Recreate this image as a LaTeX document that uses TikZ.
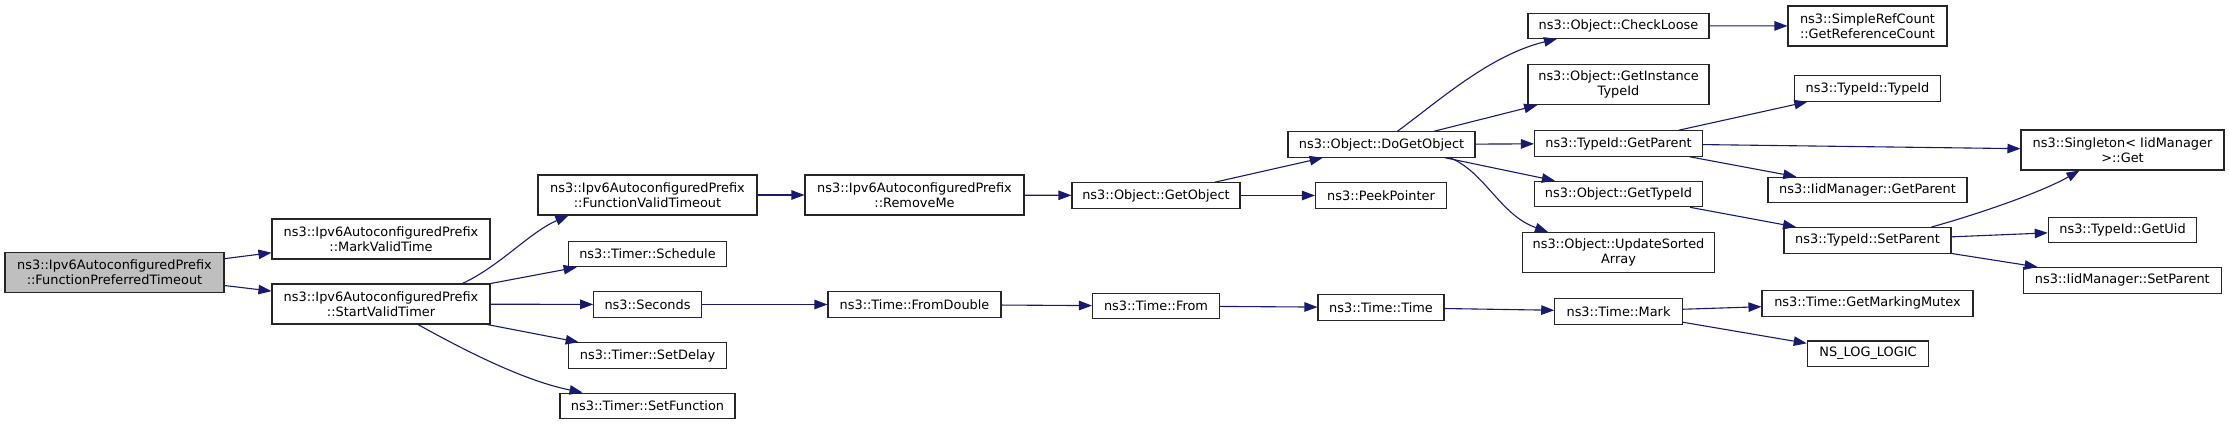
\documentclass[tikz,border=0pt]{standalone}
\usepackage{fontspec}
\setmainfont{DejaVu Sans}
\usetikzlibrary{arrows.meta,calc}
\definecolor{edgeblue}{HTML}{191970}
\definecolor{rootfill}{HTML}{BFBFBF}
\begin{document}
\begin{tikzpicture}[x=1pt,y=-1pt,
  fnbox/.style={draw=black!85, fill=white, line width=1.1pt, inner sep=0pt, align=center,
    font=\fontsize{12.9}{14.7}\selectfont, minimum height=25.5pt},
  twoline/.style={minimum height=40pt},
  rootbox/.style={fnbox, twoline, fill=rootfill},
  call/.style={draw=edgeblue, line width=1.1pt, -{Triangle[length=13pt,width=9.5pt]}}]
\fill[white] (0,0) rectangle (2229,425);
\useasboundingbox (0,0) rectangle (2229,425);

% column 1
\node[rootbox, minimum width=219pt] (main) at (114.5,272.5) {ns3::Ipv6AutoconfiguredPrefix\\::FunctionPreferredTimeout};
% column 2
\node[fnbox, twoline, minimum width=218pt] (mvt) at (381,239) {ns3::Ipv6AutoconfiguredPrefix\\::MarkValidTime};
\node[fnbox, twoline, minimum width=218pt] (svt) at (381,304) {ns3::Ipv6AutoconfiguredPrefix\\::StartValidTimer};
% column 3
\node[fnbox, twoline, minimum width=219pt] (fvt) at (647.5,195) {ns3::Ipv6AutoconfiguredPrefix\\::FunctionValidTimeout};
\node[fnbox, minimum width=158pt] (sched) at (647.5,254) {ns3::Timer::Schedule};
\node[fnbox, minimum width=107.5pt] (secs) at (647.5,304.5) {ns3::Seconds};
\node[fnbox, minimum width=158pt] (sdelay) at (647.5,355.5) {ns3::Timer::SetDelay};
\node[fnbox, minimum width=175pt] (sfunc) at (647.5,405.8) {ns3::Timer::SetFunction};
% column 4
\node[fnbox, twoline, minimum width=219pt] (remove) at (914.5,195) {ns3::Ipv6AutoconfiguredPrefix\\::RemoveMe};
\node[fnbox, minimum width=173pt] (fromdbl) at (914.5,304.5) {ns3::Time::FromDouble};
% column 5
\node[fnbox, minimum width=168pt] (getobj) at (1156,195.5) {ns3::Object::GetObject};
\node[fnbox, minimum width=127pt] (tfrom) at (1156,306) {ns3::Time::From};
% column 6
\node[fnbox, minimum width=187pt] (dogetobj) at (1381.5,144.5) {ns3::Object::DoGetObject};
\node[fnbox, minimum width=131pt] (peek) at (1381,195.5) {ns3::PeekPointer};
\node[fnbox, minimum width=126pt] (ttime) at (1381,307.5) {ns3::Time::Time};
% column 7
\node[fnbox, minimum width=181pt, minimum height=25pt] (checkloose) at (1618.5,25.8) {ns3::Object::CheckLoose};
\node[fnbox, twoline, minimum width=181pt] (getinst) at (1618.5,84.7) {ns3::Object::GetInstance\\TypeId};
\node[fnbox, minimum width=168pt] (tgetparent) at (1618.5,143.5) {ns3::TypeId::GetParent};
\node[fnbox, minimum width=168pt] (gettypeid) at (1618.5,194) {ns3::Object::GetTypeId};
\node[fnbox, twoline, minimum width=192pt] (updsorted) at (1618.5,252.5) {ns3::Object::UpdateSorted\\Array};
\node[fnbox, minimum width=127.5pt] (mark) at (1618.5,311.3) {ns3::Time::Mark};
% column 8
\node[fnbox, twoline, minimum width=159pt] (refcount) at (1867.5,26) {ns3::SimpleRefCount\\::GetReferenceCount};
\node[fnbox, minimum width=146pt] (typeidctor) at (1867.5,88.5) {ns3::TypeId::TypeId};
\node[fnbox, minimum width=199pt] (iidgetparent) at (1867.5,190) {ns3::IidManager::GetParent};
\node[fnbox, minimum width=167pt] (setparent) at (1867.5,240.3) {ns3::TypeId::SetParent};
\node[fnbox, minimum width=211pt] (mutex) at (1867.5,303.3) {ns3::Time::GetMarkingMutex};
\node[fnbox, minimum width=121.5pt] (nslog) at (1868,353.7) {NS\_LOG\_LOGIC};
% column 9
\node[fnbox, twoline, minimum width=203pt] (singleton) at (2122.5,150) {ns3::Singleton< IidManager\\>::Get};
\node[fnbox, minimum width=148.5pt] (getuid) at (2122.5,229.8) {ns3::TypeId::GetUid};
\node[fnbox, minimum width=198pt] (iidsetparent) at (2122.3,280.3) {ns3::IidManager::SetParent};

% edges
\draw[call] (main) -- (mvt);
\draw[call] (main) -- (svt);
\draw[call] ([xshift=81.5pt]svt.north) .. controls (500,266) and (530,232) .. ([xshift=-79pt]fvt.south);
\draw[call] (svt) -- (sched);
\draw[call] (svt) -- (secs);
\draw[call] (svt) -- (sdelay);
\draw[call] ([xshift=37pt]svt.south) .. controls (455,345) and (520,380) .. ([xshift=-65pt]sfunc.north);
\draw[call] (fvt) -- (remove);
\draw[call] (remove) -- (getobj);
\draw[call] (secs) -- (fromdbl);
\draw[call] (fromdbl) -- (tfrom);
\draw[call] (getobj) -- (dogetobj);
\draw[call] (getobj) -- (peek);
\draw[call] (tfrom) -- (ttime);
\draw[call] ([xshift=16pt]dogetobj.north) .. controls (1440,100) and (1490,55) .. ([xshift=-61.5pt]checkloose.south);
\draw[call] (dogetobj) -- (getinst);
\draw[call] (dogetobj) -- (tgetparent);
\draw[call] (dogetobj) -- (gettypeid);
\draw[call] ([xshift=68.5pt]dogetobj.south) .. controls (1485,172) and (1500,215) .. ([xshift=-70.5pt]updsorted.north);
\draw[call] (ttime) -- (mark);
\draw[call] (checkloose) -- (refcount);
\draw[call] (tgetparent) -- (typeidctor);
\draw[call] (tgetparent) -- (singleton);
\draw[call] (tgetparent) -- (iidgetparent);
\draw[call] (gettypeid) -- (setparent);
\draw[call] (mark) -- (mutex);
\draw[call] (mark) -- (nslog);
\draw[call] ([xshift=64pt]setparent.north) .. controls (1975,215) and (2040,193) .. ([xshift=-43pt]singleton.south);
\draw[call] (setparent) -- (getuid);
\draw[call] (setparent) -- (iidsetparent);
\end{tikzpicture}
\end{document}
